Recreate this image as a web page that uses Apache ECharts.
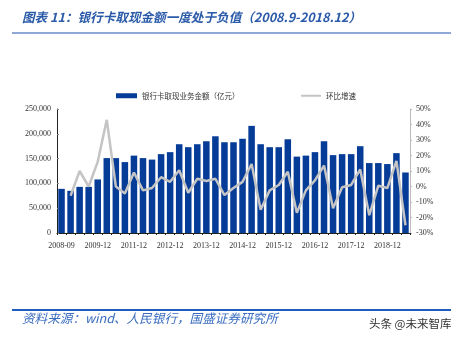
<!DOCTYPE html>
<html>
<head>
<meta charset="utf-8">
<script src="https://cdn.jsdelivr.net/npm/echarts@6/dist/echarts.min.js"></script>
<style>
  html, body { margin: 0; padding: 0; background: #fff; }
  #chart { width: 464px; height: 341px; }
</style>
</head>
<body>
<div id="chart"></div>
<script>
// Reporting periods (x axis)
const categories = [
  '2008-09', '2008-12', '2009-03', '2009-06', '2009-12', '2010-03', '2010-12', '2011-06',
  '2011-12', '2012-03', '2012-06', '2012-09', '2012-12', '2013-03', '2013-06', '2013-09',
  '2013-12', '2014-03', '2014-06', '2014-09', '2014-12', '2015-03', '2015-06', '2015-09',
  '2015-12', '2016-03', '2016-06', '2016-09', '2016-12', '2017-03', '2017-06', '2017-09',
  '2017-12', '2018-03', '2018-06', '2018-09', '2018-12', '2019-03', '2019-06'
];

// Cash withdrawal amount by bank card (100 million yuan)
const withdrawAmount = [
  89000, 85000, 93000, 93000, 108000, 151000, 151000, 143000,
  156000, 151000, 148000, 159000, 163000, 179000, 173000, 179000,
  185000, 195000, 183000, 183000, 190000, 216000, 179000, 173000,
  173000, 189000, 154000, 156000, 163000, 185000, 157000, 159000,
  159000, 175000, 141000, 141000, 139000, 161000, 122000
];

// Quarter-on-quarter growth (%)
const qoqGrowth = [
  null, -6, 10, 0, 16, 43, 0, -4.5,
  9, -2.5, -1, 6, 3, 10.5, -4, 5,
  3.5, 5, -5.5, -1, 3, 14.5, -15, -2.5,
  1, 9.5, -17, -2.5, 4, 13.5, -14, -0.5,
  1, 11, -18.5, 0.5, -1, 16.5, -25
];

const seriesNames = ['银行卡取现业务金额（亿元）', '环比增速'];

const chart = echarts.init(document.getElementById('chart'), null, { renderer: 'canvas' });
const tickFont = { fontFamily: 'Liberation Serif', fontSize: 8, color: '#333' };
const legendText = { fontFamily: 'Noto Sans CJK SC', fontSize: 7.5, color: '#333' };

chart.setOption({
  animation: false,
  backgroundColor: '#fff',
  grid: { left: 57, right: 54, top: 109, bottom: 108 },
  legend: [
    {
      left: 111,
      top: 87,
      itemGap: 4,
      itemWidth: 21,
      itemHeight: 5,
      textStyle: legendText,
      data: [{ name: seriesNames[0], icon: 'rect' }]
    },
    {
      left: 296,
      top: 87,
      itemWidth: 20,
      itemHeight: 2,
      textStyle: legendText,
      data: [{ name: seriesNames[1], icon: 'rect' }]
    }
  ],
  xAxis: {
    type: 'category',
    data: categories,
    axisLine: { lineStyle: { color: '#222', width: 1 } },
    axisTick: { show: true, interval: 0, length: 2, lineStyle: { color: '#222' } },
    axisLabel: Object.assign({ interval: 3, margin: 9 }, tickFont)
  },
  yAxis: [
    {
      type: 'value',
      min: 0, max: 250000, interval: 50000,
      axisLine: { show: true, lineStyle: { color: '#222' } },
      axisTick: { show: true, inside: true, length: 2, lineStyle: { color: '#888' } },
      splitLine: { show: false },
      axisLabel: Object.assign({ margin: 6 }, tickFont)
    },
    {
      type: 'value',
      position: 'right',
      min: -30, max: 50, interval: 10,
      axisLine: { show: true, lineStyle: { color: '#bbb' } },
      axisTick: { show: true, length: 2, lineStyle: { color: '#bbb' } },
      splitLine: { show: false },
      axisLabel: Object.assign({ margin: 6, formatter: '{value}%' }, tickFont)
    }
  ],
  series: [
    {
      name: seriesNames[0],
      type: 'bar',
      data: withdrawAmount,
      barWidth: '72%',
      itemStyle: { color: '#053c97' }
    },
    {
      name: seriesNames[1],
      type: 'line',
      yAxisIndex: 1,
      data: qoqGrowth,
      symbol: 'none',
      lineStyle: { color: '#c4c4c4', width: 2.5 },
      itemStyle: { color: '#c4c4c4' }
    }
  ],
  graphic: [
    {
      type: 'text', left: 22, top: 11,
      style: {
        text: '图表 11：银行卡取现金额一度处于负值（2008.9-2018.12）',
        font: 'italic bold 12.6px "Noto Sans CJK SC"',
        fill: '#2a5aa8'
      }
    },
    {
      type: 'line',
      shape: { x1: 12, y1: 33, x2: 451, y2: 33 },
      style: { stroke: '#6a8cc8', lineWidth: 1.5 }
    },
    {
      type: 'line',
      shape: { x1: 12, y1: 310, x2: 451, y2: 310 },
      style: { stroke: '#1e5cc0', lineWidth: 2 }
    },
    {
      type: 'text', left: 22, top: 312,
      style: {
        text: '资料来源：wind、人民银行，国盛证券研究所',
        font: 'italic 12.6px "Noto Sans CJK SC"',
        fill: '#3a6cc0'
      }
    },
    {
      type: 'text', left: 369, top: 318,
      style: {
        text: '头条 @未来智库',
        font: '11.5px "Noto Sans CJK SC"',
        fill: '#333'
      }
    }
  ]
});
</script>
</body>
</html>
